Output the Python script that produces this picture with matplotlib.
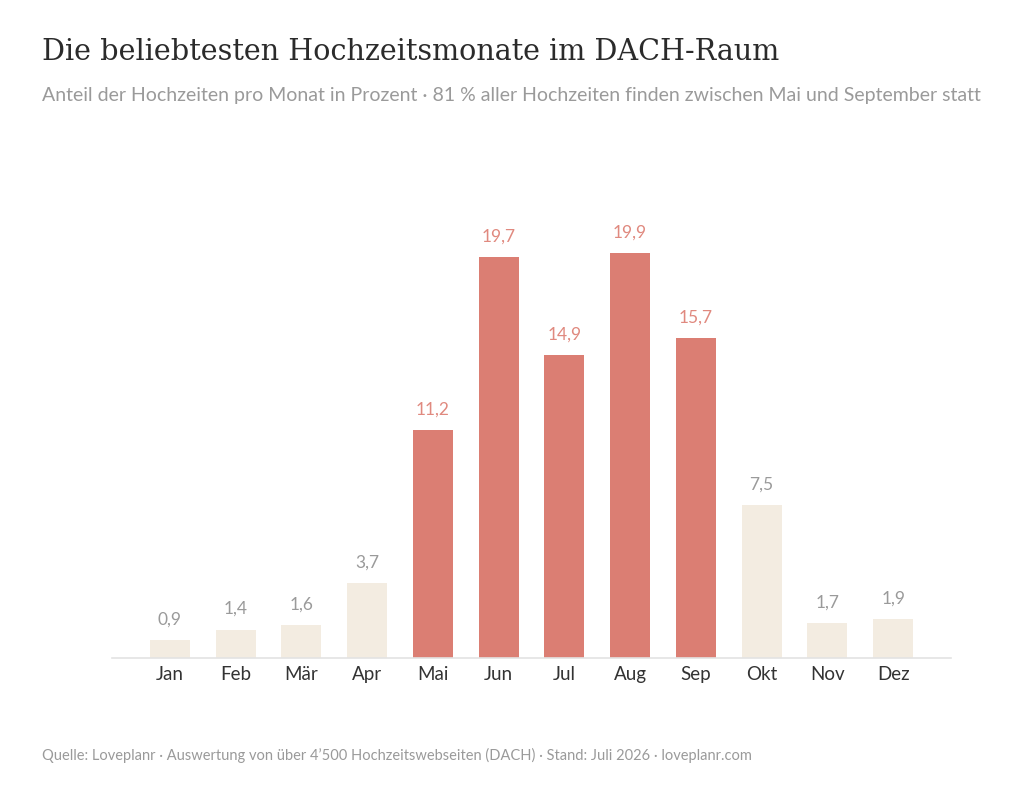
import matplotlib
matplotlib.use("Agg")
import matplotlib.pyplot as plt

monate = ["Jan", "Feb", "Mär", "Apr", "Mai", "Jun", "Jul", "Aug", "Sep", "Okt", "Nov", "Dez"]
anteil = [0.9, 1.4, 1.6, 3.7, 11.2, 19.7, 14.9, 19.9, 15.7, 7.5, 1.7, 1.9]
hochsaison = [False, False, False, False, True, True, True, True, True, False, False, False]

ROT = "#DB7E73"
ROT_TEXT = "#E0897F"
BEIGE = "#F3ECE1"
GRAU = "#9A9A9A"

plt.rcParams["font.family"] = ["Lato", "DejaVu Sans"]

fig = plt.figure(figsize=(10.24, 8.05), dpi=100)
ax = fig.add_axes([112 / 1024, 1 - 658 / 805, 839 / 1024, 508 / 805])

x = range(len(monate))
farben = [ROT if h else BEIGE for h in hochsaison]
ax.bar(x, anteil, width=0.61, color=farben, zorder=2)

for i, (v, h) in enumerate(zip(anteil, hochsaison)):
    ax.annotate(f"{v:.1f}".replace(".", ","), (i, v), xytext=(0, 9), textcoords="offset points",
                ha="center", va="bottom", fontsize=12.5, color=ROT_TEXT if h else GRAU)

ax.set_xlim(-0.88, 11.88)
ax.set_ylim(0, 24.96)
ax.set_xticks(list(x))
ax.set_xticklabels(monate, fontsize=13.5, color="#333333")
ax.tick_params(axis="x", length=0, pad=6)
ax.set_yticks([])
for s in ["top", "right", "left"]:
    ax.spines[s].set_visible(False)
ax.spines["bottom"].set_color("#E3E3E3")
ax.spines["bottom"].set_linewidth(1.2)

fig.text(42 / 1024, 1 - 52 / 805, "Die beliebtesten Hochzeitsmonate im DACH-Raum",
         family="DejaVu Serif", fontsize=20.6, color="#2B2B2B", va="center")
fig.text(42 / 1024, 1 - 96 / 805,
         "Anteil der Hochzeiten pro Monat in Prozent · 81 % aller Hochzeiten finden zwischen Mai und September statt",
         fontsize=14, color=GRAU, va="center")
fig.text(42 / 1024, 1 - 755 / 805,
         "Quelle: Loveplanr · Auswertung von über 4’500 Hochzeitswebseiten (DACH) · Stand: Juli 2026 · loveplanr.com",
         fontsize=10.5, color=GRAU, va="center")

fig.savefig("out.png", dpi=100, facecolor="white")
